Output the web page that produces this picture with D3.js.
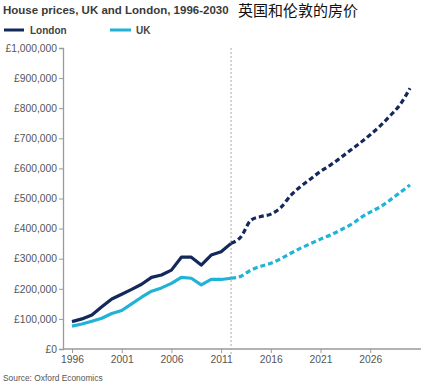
<!DOCTYPE html>
<html><head><meta charset="utf-8">
<script src="https://cdn.jsdelivr.net/npm/d3@7"></script>
<style>
html,body{margin:0;padding:0;background:#fff;}
text{font-family:"Liberation Sans",Arial,sans-serif;}
</style></head>
<body>
<svg id="c" width="432" height="388"></svg>
<script>
const histYears = [1996,1997,1998,1999,2000,2001,2002,2003,2004,2005,2006,2007,2008,2009,2010,2011,2012];
const londonHist = [91000,100000,113000,140000,166000,182000,198000,215000,238000,246000,262000,305000,305000,279000,312000,323000,351000];
const ukHist = [76000,83000,92000,102000,118000,128000,150000,172000,192000,203000,218000,238000,235000,213000,231000,231000,235000];
const foreYears = [2012,2013,2014,2015,2016,2017,2018,2019,2020,2021,2022,2023,2024,2025,2026,2027,2028,2029,2030];
const londonFore = [351000,373000,428000,440000,448000,470000,510000,540000,565000,590000,611000,635000,660000,685000,712000,741000,775000,812000,866000];
const ukFore = [235000,242000,262000,275000,285000,300000,318000,335000,350000,365000,379000,395000,412000,435000,455000,472000,495000,520000,545000];
const yTicks = [0,100000,200000,300000,400000,500000,600000,700000,800000,900000,1000000];
const xTicks = [1996,2001,2006,2011,2016,2021,2026];
const forecastStart = 2012;

const svg = d3.select("#c");
const x = d3.scaleLinear().domain([1996,2030]).range([72,410]);
const y = d3.scaleLinear().domain([0,1000000]).range([349,48]);
const navy = "#13295b", cyan = "#20b3d5";

svg.append("text").attr("x",3).attr("y",14).attr("font-size",11.5).attr("font-weight","bold").attr("fill","#3a3a3a")
  .text("House prices, UK and London, 1996-2030");
svg.append("text").attr("x",238).attr("y",15.5).attr("font-size",15).attr("fill","#111")
  .style("font-family","'Noto Sans CJK SC',sans-serif").text("英国和伦敦的房价");

// legend
svg.append("line").attr("x1",4).attr("x2",24).attr("y1",30).attr("y2",30).attr("stroke",navy).attr("stroke-width",3);
svg.append("text").attr("x",30).attr("y",34).attr("font-size",10).attr("font-weight","bold").attr("fill","#444").text("London");
svg.append("line").attr("x1",110).attr("x2",131).attr("y1",30).attr("y2",30).attr("stroke",cyan).attr("stroke-width",3);
svg.append("text").attr("x",136).attr("y",34).attr("font-size",10).attr("font-weight","bold").attr("fill","#444").text("UK");

// y axis
const fmt = v => "£" + d3.format(",")(v);
const ya = svg.append("g").attr("transform","translate(63,0)")
  .call(d3.axisLeft(y).tickValues(yTicks).tickFormat(fmt).tickSize(4).tickPadding(2));
ya.select(".domain").attr("stroke","#9a9a9a").attr("stroke-width",1.3);
ya.selectAll(".tick line").attr("stroke","#9a9a9a");
ya.selectAll("text").attr("font-size",10.3).attr("fill","#555").style("font-family","'Liberation Sans',Arial,sans-serif");

// x axis
const xa = svg.append("g").attr("transform","translate(0,349)")
  .call(d3.axisBottom(x).tickValues(xTicks).tickFormat(d3.format("d")).tickSize(4).tickPadding(3));
xa.select(".domain").attr("d","M63,0H421").attr("stroke","#9a9a9a").attr("stroke-width",1.3);
xa.selectAll(".tick line").attr("stroke","#9a9a9a");
xa.selectAll("text").attr("font-size",10.3).attr("fill","#555").style("font-family","'Liberation Sans',Arial,sans-serif");

// forecast divider
svg.append("line").attr("x1",x(forecastStart)).attr("x2",x(forecastStart)).attr("y1",48).attr("y2",356)
  .attr("stroke","#aaa").attr("stroke-width",1).attr("stroke-dasharray","2,2");

const lineH = d3.line().x(d=>x(d[0])).y(d=>y(d[1]));
const lineF = d3.line().x(d=>x(d[0])).y(d=>y(d[1])).curve(d3.curveMonotoneX);
const zip = (a,b)=>a.map((v,i)=>[v,b[i]]);
function draw(data,color,gen,dash){
  svg.append("path").datum(data).attr("d",gen).attr("fill","none").attr("stroke",color)
    .attr("stroke-width",3.2).attr("stroke-linejoin","round").attr("stroke-dasharray",dash||null);
}
draw(zip(histYears,ukHist),cyan,lineH);
draw(zip(histYears,londonHist),navy,lineH);
draw(zip(foreYears,ukFore),cyan,lineF,"5,3");
draw(zip(foreYears,londonFore),navy,lineF,"5,3");

svg.append("text").attr("x",3).attr("y",381).attr("font-size",8.4).attr("fill","#555").text("Source: Oxford Economics");
</script>
</body></html>
